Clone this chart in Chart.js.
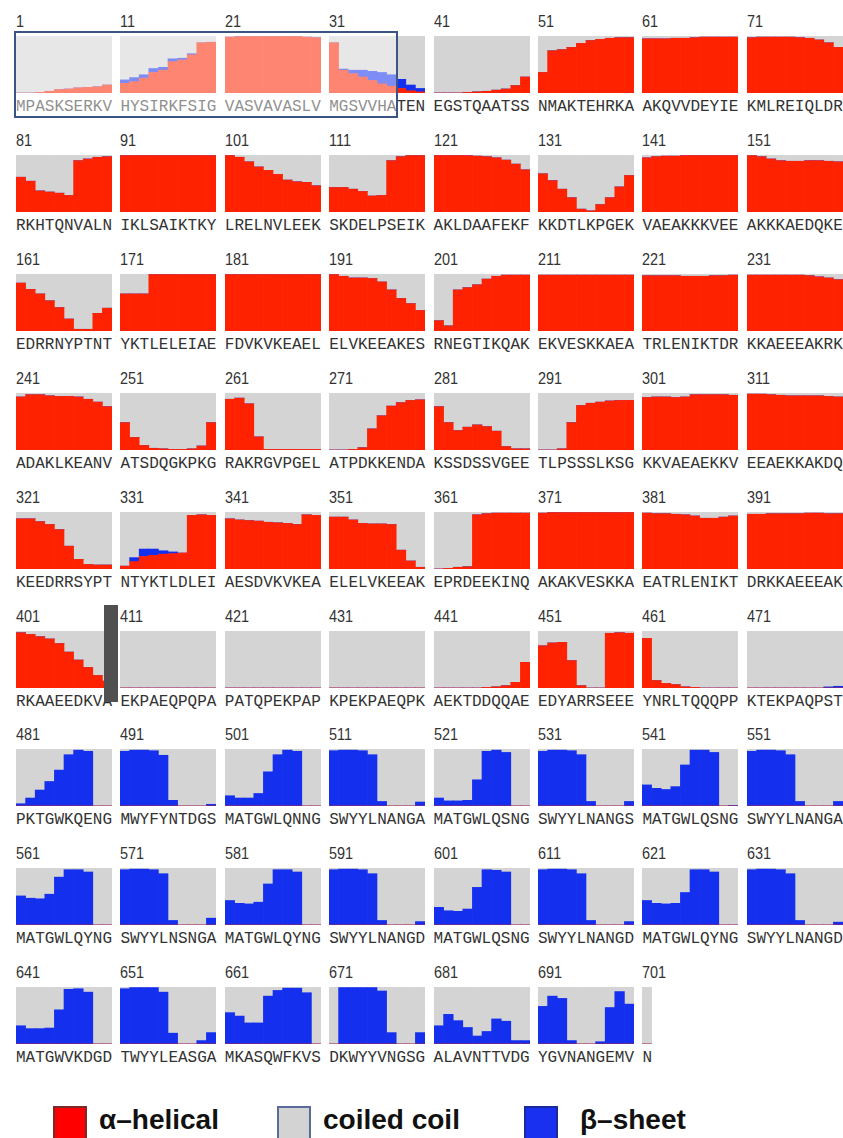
<!DOCTYPE html>
<html>
<head>
<meta charset="utf-8">
<script src="https://cdn.jsdelivr.net/npm/chart.js@4.4.1/dist/chart.umd.min.js"></script>
<style>
body { margin: 0; background: #fff; }
#page { position: relative; width: 843px; height: 1138px; overflow: hidden; font-family: "Liberation Sans", Arial, sans-serif; }
.panel { position: absolute; width: 96px; height: 57px; }
.panel canvas { position: absolute; left: 0; top: 0; display: block; }
.num { position: absolute; left: 0; top: -24px; font: 17px "Liberation Sans Narrow", "Liberation Sans", sans-serif; color: #333; white-space: nowrap; transform: scaleX(0.85); transform-origin: left center; }
.seq { position: absolute; left: 0; top: 62px; font: 16px "Liberation Mono", monospace; color: #333; white-space: nowrap; }
#signal { position: absolute; left: 14px; top: 31px; width: 384px; height: 87px; box-sizing: border-box; border: 2px solid #3b5486; background: rgba(255,255,255,0.45); z-index: 5; }
#cleave { position: absolute; left: 104px; top: 605px; width: 14px; height: 97px; background: #505050; z-index: 6; }
.key { position: absolute; top: 1106px; width: 30px; height: 30px; border: 2px solid; }
.keytext { position: absolute; top: 1104px; font: bold 28px "Liberation Sans", Arial, sans-serif; color: #111; white-space: nowrap; }
</style>
</head>
<body>
<div id="page">
  <div id="signal"></div>
  <div id="cleave"></div>
  <div class="key" style="left:53px; background:#ff0000; border-color:#7a2a2a;"></div>
  <div class="keytext" style="left:99px;">α–helical</div>
  <div class="key" style="left:277px; background:#d3d3d3; border-color:#5a6a9a;"></div>
  <div class="keytext" style="left:323px;">coiled coil</div>
  <div class="key" style="left:524px; background:#1a30f0; border-color:#1a2a9a;"></div>
  <div class="keytext" style="left:580px;">β–sheet</div>
</div>
<script>
// sequence, 10 residues per panel
const seqs = [
  'MPASKSERKV', 'HYSIRKFSIG', 'VASVAVASLV', 'MGSVVHATEN', 'EGSTQAATSS', 'NMAKTEHRKA', 'AKQVVDEYIE', 'KMLREIQLDR',
  'RKHTQNVALN', 'IKLSAIKTKY', 'LRELNVLEEK', 'SKDELPSEIK', 'AKLDAAFEKF', 'KKDTLKPGEK', 'VAEAKKKVEE', 'AKKKAEDQKE',
  'EDRRNYPTNT', 'YKTLELEIAE', 'FDVKVKEAEL', 'ELVKEEAKES', 'RNEGTIKQAK', 'EKVESKKAEA', 'TRLENIKTDR', 'KKAEEEAKRK',
  'ADAKLKEANV', 'ATSDQGKPKG', 'RAKRGVPGEL', 'ATPDKKENDA', 'KSSDSSVGEE', 'TLPSSSLKSG', 'KKVAEAEKKV', 'EEAEKKAKDQ',
  'KEEDRRSYPT', 'NTYKTLDLEI', 'AESDVKVKEA', 'ELELVKEEAK', 'EPRDEEKINQ', 'AKAKVESKKA', 'EATRLENIKT', 'DRKKAEEEAK',
  'RKAAEEDKVA', 'EKPAEQPQPA', 'PATQPEKPAP', 'KPEKPAEQPK', 'AEKTDDQQAE', 'EDYARRSEEE', 'YNRLTQQQPP', 'KTEKPAQPST',
  'PKTGWKQENG', 'MWYFYNTDGS', 'MATGWLQNNG', 'SWYYLNANGA', 'MATGWLQSNG', 'SWYYLNANGS', 'MATGWLQSNG', 'SWYYLNANGA',
  'MATGWLQYNG', 'SWYYLNSNGA', 'MATGWLQYNG', 'SWYYLNANGD', 'MATGWLQSNG', 'SWYYLNANGD', 'MATGWLQYNG', 'SWYYLNANGD',
  'MATGWVKDGD', 'TWYYLEASGA', 'MKASQWFKVS', 'DKWYYVNGSG', 'ALAVNTTVDG', 'YGVNANGEMV', 'N'
];

// alpha-helical share per residue (%)
const helix = [
  0,0,1,3,6,7,9,10,11,14,             // 1
  17,20,26,36,40,55,58,67,88,89,      // 11
  98,99,99,99,99,99,99,99,98,97,      // 21
  88,40,34,28,22,16,12,8,4,2,         // 31
  0,0,0,1,2,3,5,7,13,28,              // 41
  36,74,76,80,87,92,94,96,97,97,      // 51
  95,95,95,96,96,97,98,98,98,98,      // 61
  97,98,98,98,98,97,96,93,88,80,      // 71
  61,54,37,35,33,29,90,93,96,97,      // 81
  99,99,99,99,99,99,99,99,99,99,      // 91
  99,96,88,79,73,66,56,53,52,46,      // 101
  43,43,40,36,28,29,90,97,99,99,      // 111
  99,99,99,99,98,97,95,91,84,74,      // 121
  67,55,40,25,5,2,13,25,44,64,        // 131
  95,97,98,98,99,99,99,99,99,99,      // 141
  99,97,93,90,89,89,90,90,89,88,      // 151
  84,73,65,53,41,21,3,3,31,40,        // 161
  65,65,65,99,99,99,99,99,99,99,      // 171
  99,99,99,99,99,99,99,99,99,99,      // 181
  99,96,93,93,92,86,72,57,48,36,      // 191
  18,9,72,76,81,91,96,98,98,98,       // 201
  98,98,98,98,98,98,98,98,98,98,      // 211
  97,97,97,97,96,96,96,97,97,98,      // 221
  98,98,98,98,98,98,97,95,93,90,      // 231
  93,97,97,95,94,94,93,89,84,76,      // 241
  48,22,8,3,2,1,1,2,7,48,             // 251
  89,91,81,23,1,1,1,1,1,1,            // 261
  0,0,1,4,37,60,77,83,87,88,          // 271
  76,48,34,40,44,41,33,6,2,2,         // 281
  0,0,2,48,78,82,84,86,87,87,         // 291
  92,93,93,92,93,97,97,97,97,96,      // 301
  98,98,97,96,95,95,95,95,94,93,      // 311
  88,88,83,78,69,40,17,8,7,7,         // 321
  5,13,22,24,26,27,28,94,95,94,       // 331
  88,86,85,84,82,81,80,78,95,94,      // 341
  91,91,86,80,79,79,78,33,14,3,       // 351
  0,1,3,4,95,97,98,98,98,98,          // 361
  98,99,99,99,99,99,99,99,99,99,      // 371
  98,97,97,96,95,93,89,89,91,93,      // 381
  96,96,97,97,97,97,98,98,97,97,      // 391
  97,94,90,86,78,63,49,36,22,12,      // 401
  0,0,0,0,0,0,0,0,0,0,                // 411
  0,0,0,0,0,0,0,0,0,0,                // 421
  0,0,0,0,0,0,0,0,0,0,                // 431
  0,0,0,0,0,1,2,4,10,45,              // 441
  74,79,80,48,4,0,0,96,97,96,         // 451
  87,13,8,6,2,1,0,0,0,0,              // 461
  0,0,0,0,0,0,0,0,0,0,                // 471
  0,0,0,0,0,0,0,0,0,0,                // 481
  0,0,0,0,0,0,0,0,0,0,                // 491
  0,0,0,0,0,0,0,0,0,0,                // 501
  0,0,0,0,0,0,0,0,0,0,                // 511
  0,0,0,0,0,0,0,0,0,0,                // 521
  0,0,0,0,0,0,0,0,0,0,                // 531
  0,0,0,0,0,0,0,0,0,0,                // 541
  0,0,0,0,0,0,0,0,0,0,                // 551
  0,0,0,0,0,0,0,0,0,0,                // 561
  0,0,0,0,0,0,0,0,0,0,                // 571
  0,0,0,0,0,0,0,0,0,0,                // 581
  0,0,0,0,0,0,0,0,0,0,                // 591
  0,0,0,0,0,0,0,0,0,0,                // 601
  0,0,0,0,0,0,0,0,0,0,                // 611
  0,0,0,0,0,0,0,0,0,0,                // 621
  0,0,0,0,0,0,0,0,0,0,                // 631
  0,0,0,0,0,0,0,0,0,0,                // 641
  0,0,0,0,0,0,0,0,0,0,                // 651
  0,0,0,0,0,0,0,0,0,0,                // 661
  0,0,0,0,0,0,0,0,0,0,                // 671
  0,0,0,0,0,0,0,0,0,0,                // 681
  0,0,0,0,0,0,0,0,0,0,                // 691
  0                                   // 701
];

// beta-sheet share per residue (%)
const sheet = [
  0,0,0,0,0,0,0,0,0,0,                // 1
  6,7,6,7,5,5,3,2,0,0,                // 11
  0,0,0,0,0,0,0,0,0,0,                // 21
  0,2,6,12,16,20,20,16,10,6,          // 31
  0,0,0,0,0,0,0,0,0,0,                // 41
  0,0,0,0,0,0,0,0,0,0,                // 51
  0,0,0,0,0,0,0,0,0,0,                // 61
  0,0,0,0,0,0,0,0,0,0,                // 71
  0,0,0,0,0,0,0,0,0,0,                // 81
  0,0,0,0,0,0,0,0,0,0,                // 91
  0,0,0,0,0,0,0,0,0,0,                // 101
  0,0,0,0,0,0,0,0,0,0,                // 111
  0,0,0,0,0,0,0,0,0,0,                // 121
  0,0,0,0,0,0,0,0,0,0,                // 131
  0,0,0,0,0,0,0,0,0,0,                // 141
  0,0,0,0,0,0,0,0,0,0,                // 151
  0,0,0,0,0,0,0,0,0,0,                // 161
  0,0,0,0,0,0,0,0,0,0,                // 171
  0,0,0,0,0,0,0,0,0,0,                // 181
  0,0,0,0,0,0,0,0,0,0,                // 191
  0,0,0,0,0,0,0,0,0,0,                // 201
  0,0,0,0,0,0,0,0,0,0,                // 211
  0,0,0,0,0,0,0,0,0,0,                // 221
  0,0,0,0,0,0,0,0,0,0,                // 231
  0,0,0,0,0,0,0,0,0,0,                // 241
  0,0,0,0,0,0,0,0,0,0,                // 251
  0,0,0,0,0,0,0,0,0,0,                // 261
  0,0,0,0,0,0,0,0,0,0,                // 271
  0,0,0,0,0,0,0,0,0,0,                // 281
  0,0,0,0,0,0,0,0,0,0,                // 291
  0,0,0,0,0,0,0,0,0,0,                // 301
  0,0,0,0,0,0,0,0,0,0,                // 311
  0,0,0,0,0,0,0,0,0,0,                // 321
  0,7,13,11,6,3,0,0,0,0,              // 331
  0,0,0,0,0,0,0,0,0,0,                // 341
  0,0,0,0,0,0,0,0,0,0,                // 351
  0,0,0,0,0,0,0,0,0,0,                // 361
  0,0,0,0,0,0,0,0,0,0,                // 371
  0,0,0,0,0,0,0,0,0,0,                // 381
  0,0,0,0,0,0,0,0,0,0,                // 391
  0,0,0,0,0,0,0,0,0,0,                // 401
  0,0,0,0,0,0,0,0,0,0,                // 411
  0,0,0,0,0,0,0,0,0,0,                // 421
  0,0,0,0,0,0,0,0,0,0,                // 431
  0,0,0,0,0,0,0,0,0,0,                // 441
  0,0,0,0,0,0,0,0,0,0,                // 451
  0,0,0,0,0,0,0,0,0,0,                // 461
  0,0,0,0,0,0,0,0,2,3,                // 471
  4,14,28,43,63,90,98,96,0,0,         // 481
  96,98,98,97,89,10,0,0,0,3,          // 491
  18,14,14,22,60,90,98,96,0,0,        // 501
  97,98,98,97,90,8,0,0,0,7,           // 511
  14,9,9,10,46,96,98,94,0,0,          // 521
  96,98,98,97,90,8,0,0,0,8,           // 531
  37,31,29,34,72,98,98,94,0,1,        // 541
  96,98,98,97,90,8,0,0,0,8,           // 551
  51,47,46,54,84,97,97,93,0,0,        // 561
  97,98,98,97,90,8,0,0,0,12,          // 571
  43,38,37,40,72,97,97,93,0,0,        // 581
  97,98,98,97,90,8,0,0,0,6,           // 591
  31,25,24,28,66,97,96,93,0,0,        // 601
  97,98,98,97,90,8,0,0,0,6,           // 611
  43,38,37,38,57,97,97,93,0,0,        // 621
  97,98,98,97,90,8,0,0,0,5,           // 631
  32,27,27,28,60,96,97,91,0,0,        // 641
  97,99,99,99,91,19,0,0,6,20,         // 651
  55,49,37,37,84,94,98,98,90,0,       // 661
  0,99,99,99,99,93,20,0,0,20,         // 671
  32,52,41,29,14,22,44,40,6,6,        // 681
  66,84,80,6,0,0,4,64,92,70,          // 691
  0                                   // 701
];

const RED = '#ff2200';
const BLUE = '#1430ee';
const GREY = '#d4d4d4';

const nResidues = seqs.join('').length;
const page = document.getElementById('page');

// residues past the end of the sequence stay empty
function panelValues(arr, start) {
    const out = [];
    for (let k = 0; k < 10; k++) {
        out.push(start + k < nResidues ? arr[start + k] : null);
    }
    return out;
}

seqs.forEach(function(s, p) {
    const row = Math.floor(p / 8);
    const col = p % 8;
    const start = p * 10;

    const div = document.createElement('div');
    div.className = 'panel';
    div.style.left = (16 + col * 104.4) + 'px';
    div.style.top = (36 + row * 118.9) + 'px';

    const num = document.createElement('div');
    num.className = 'num';
    num.textContent = start + 1;
    div.appendChild(num);

    const seq = document.createElement('div');
    seq.className = 'seq';
    seq.textContent = s;
    div.appendChild(seq);

    const canvas = document.createElement('canvas');
    canvas.width = 96;
    canvas.height = 57;
    div.appendChild(canvas);
    page.appendChild(div);

    const h = panelValues(helix, start);
    const b = panelValues(sheet, start);
    const c = h.map((v, k) => v === null ? null : 100 - v - b[k]);
    const labels = [];
    for (let k = 0; k < 10; k++) labels.push(String(start + k + 1));

    new Chart(canvas.getContext('2d'), {
        type: 'bar',
        data: {
            labels: labels,
            datasets: [
                { label: 'α-helical', data: h, backgroundColor: RED },
                { label: 'β-sheet', data: b, backgroundColor: BLUE },
                { label: 'coiled coil', data: c, backgroundColor: GREY }
            ]
        },
        options: {
            responsive: false,
            animation: false,
            devicePixelRatio: 1,
            layout: { padding: 0 },
            datasets: { bar: { barPercentage: 1, categoryPercentage: 1, borderWidth: 0 } },
            plugins: { legend: { display: false }, tooltip: { enabled: false } },
            scales: {
                x: { stacked: true, display: false },
                y: { stacked: true, display: false, min: 0, max: 100 }
            }
        }
    });
});
</script>
</body>
</html>
